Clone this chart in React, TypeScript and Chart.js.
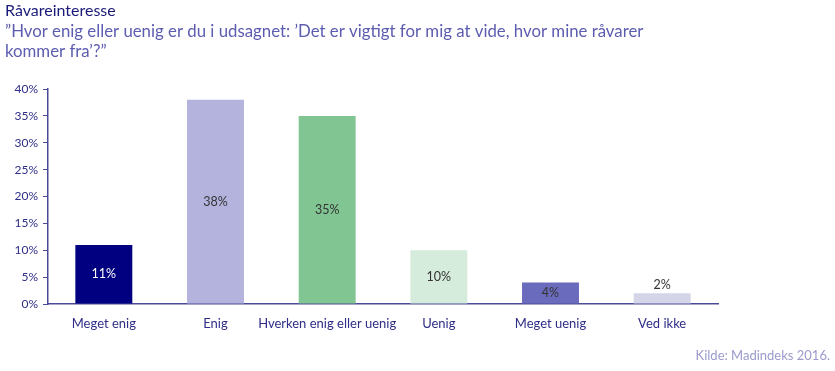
import React, { useEffect, useRef } from "react";
import { Chart, registerables } from "chart.js";
Chart.register(...registerables);

const categories = ["Meget enig", "Enig", "Hverken enig eller uenig", "Uenig", "Meget uenig", "Ved ikke"];
const values = [11, 38, 35, 10, 4, 2];
const barColors = ["#000080", "#b3b3de", "#80c592", "#d5ebdc", "#6b6bbd", "#d5d5ea"];
const labelColors = ["#ffffff", "#333333", "#333333", "#333333", "#333333", "#333333"];
const yTicks = [0, 5, 10, 15, 20, 25, 30, 35, 40];
const titleText = "Råvareinteresse";
const subtitleLines = ["”Hvor enig eller uenig er du i udsagnet: ’Det er vigtigt for mig at vide, hvor mine råvarer", "kommer fra’?”"];
const sourceText = "Kilde: Madindeks 2016.";

const FONT = "Lato, 'Open Sans', sans-serif";

export default function App() {
  const ref = useRef<HTMLCanvasElement>(null);
  useEffect(() => {
    document.body.style.margin = "0";
    const textPlugin = {
      id: "texts",
      afterDraw(chart: any) {
        const ctx = chart.ctx;
        ctx.save();
        ctx.textBaseline = "alphabetic";
        ctx.textAlign = "left";
        ctx.fillStyle = "#1a1a78";
        ctx.font = `16px ${FONT}`;
        ctx.fillText(titleText, 5, 16);
        ctx.fillStyle = "#5c5cb0";
        ctx.font = `16.8px ${FONT}`;
        ctx.fillText(subtitleLines[0], 5, 37);
        ctx.fillText(subtitleLines[1], 5, 57);
        ctx.fillStyle = "#9a9acc";
        ctx.font = `13px ${FONT}`;
        ctx.textAlign = "right";
        ctx.fillText(sourceText, 830, 360);
        const meta = chart.getDatasetMeta(0);
        ctx.font = `12.5px ${FONT}`;
        ctx.textAlign = "center";
        ctx.textBaseline = "middle";
        meta.data.forEach((bar: any, i: number) => {
          const h = bar.base - bar.y;
          let y = (bar.y + bar.base) / 2;
          if (h < 15) y = bar.y - 8;
          ctx.fillStyle = labelColors[i];
          ctx.fillText(values[i] + "%", bar.x, y);
        });
        ctx.restore();
      },
    };
    const chart = new Chart(ref.current!, {
      type: "bar",
      data: {
        labels: categories,
        datasets: [
          {
            data: values,
            backgroundColor: barColors,
            categoryPercentage: 1,
            barPercentage: 0.51,
          },
        ],
      },
      options: {
        responsive: false,
        animation: false,
        layout: { padding: { top: 89, right: 117, bottom: 40, left: 0 } },
        plugins: { legend: { display: false }, tooltip: { enabled: false } },
        scales: {
          x: {
            grid: { display: false },
            border: { display: true, color: "#4a4a9c", width: 1.5 },
            ticks: {
              color: "#2e2e88",
              font: { family: FONT, size: 13 },
              padding: 4,
              maxRotation: 0,
              minRotation: 0,
              autoSkip: false,
            },
            afterFit(scale: any) {
              scale.height = 27;
            },
          },
          y: {
            min: 0,
            max: 40,
            afterBuildTicks(scale: any) {
              scale.ticks = yTicks.map((v) => ({ value: v }));
            },
            grid: { display: true, drawOnChartArea: false, drawTicks: true, tickLength: 5, color: "#4a4a9c" },
            border: { display: true, color: "#4a4a9c", width: 1.5 },
            ticks: {
              color: "#2e2e88",
              font: { family: FONT, size: 12 },
              padding: 5,
              callback: (v: any) => v + "%",
            },
            afterFit(scale: any) {
              scale.width = 48;
            },
          },
        },
      },
      plugins: [textPlugin],
    });
    return () => chart.destroy();
  }, []);
  return <canvas ref={ref} width={835} height={371} style={{ display: "block" }} />;
}
